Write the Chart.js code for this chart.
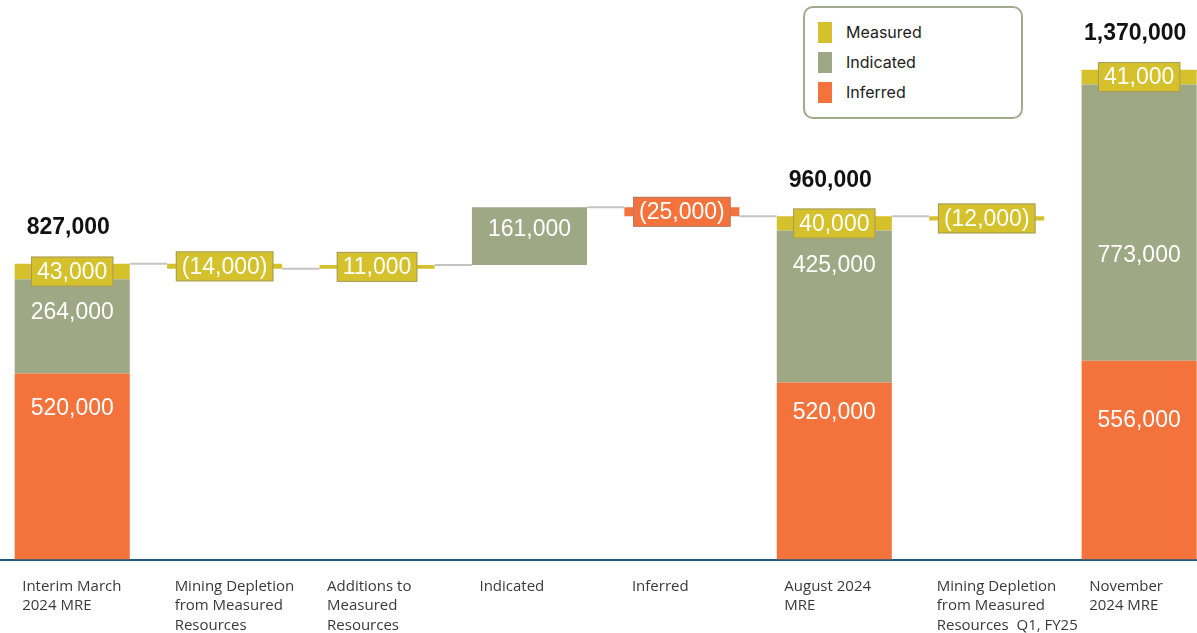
<!DOCTYPE html>
<html>
<head>
<meta charset="utf-8">
<script src="https://cdn.jsdelivr.net/npm/chart.js@4.4.1/dist/chart.umd.min.js"></script>
<style>
  html, body { margin: 0; padding: 0; background: #fff; overflow: hidden; }
  body { width: 1197px; height: 633px; position: relative; }
  #wrap { position: absolute; left: -4px; top: 0; width: 1234px; height: 654px; }
  #legend {
    position: absolute; left: 803px; top: 6px; width: 220px; height: 113px;
    border: 2px solid #a2aa8c; border-radius: 10px; background: #fff;
    font-family: Inter, "Open Sans", sans-serif; font-size: 16px; color: #222;
    padding: 9px 0 0 13px; box-sizing: border-box;
  }
  #legend .item { height: 30px; display: flex; align-items: center; }
  #legend .swatch { width: 14px; height: 21px; margin-right: 14px; }
</style>
</head>
<body>
<div id="wrap"><canvas id="resourceChart" width="1234" height="654"></canvas></div>
<div id="legend"></div>
<script>
const categories = [
    ['Interim March', '2024 MRE'],
    ['Mining Depletion', 'from Measured', 'Resources'],
    ['Additions to', 'Measured', 'Resources'],
    ['Indicated'],
    ['Inferred'],
    ['August 2024', 'MRE'],
    ['Mining Depletion', 'from Measured', 'Resources  Q1, FY25'],
    ['November', '2024 MRE']
];
// full resource statements stack from zero, the other columns are changes
const isTotal = [true, false, false, false, false, true, false, true];
const inferred  = [520000, 0, 0, 0, -25000, 495000, 0, 556000];
const indicated = [264000, 0, 0, 161000, 0, 425000, 0, 773000];
const measured  = [43000, -14000, 11000, 0, 0, 40000, -12000, 41000];
const totals    = [827000, null, null, null, null, 960000, null, 1370000];
// the August inferred segment is printed as 520,000 on the original
const inferredText = [null, null, null, null, null, '520,000', null, null];

const colors = { measured: '#d5c12b', indicated: '#9ea884', inferred: '#f4733d' };
const barPct = 0.755;

// build floating [start, end] ranges for the waterfall
let infRange = [], indRange = [], meaRange = [];
let levelBefore = [], levelAfter = [];
let level = 0;
for (let i = 0; i < categories.length; i++) {
    if (isTotal[i]) {
        let a = inferred[i], b = a + indicated[i], c = b + measured[i];
        infRange.push([0, a]);
        indRange.push([a, b]);
        meaRange.push([b, c]);
        levelBefore.push(c);
        level = c;
    } else {
        levelBefore.push(level);
        let vals = [inferred[i], indicated[i], measured[i]];
        let outs = [infRange, indRange, meaRange];
        for (let k = 0; k < 3; k++) {
            if (!vals[k]) { outs[k].push(null); continue; }
            outs[k].push([level, level + vals[k]]);
            level += vals[k];
        }
    }
    levelAfter.push(level);
}

function fmt(v) {
    let s = Math.abs(v).toLocaleString('en-US');
    return v < 0 ? '(' + s + ')' : s;
}

const segmentLabels = {
    id: 'segmentLabels',
    afterDatasetsDraw(chart) {
        const ctx = chart.ctx;
        const xs = chart.scales.x, ys = chart.scales.y;
        const half = (xs.getPixelForValue(1) - xs.getPixelForValue(0)) * barPct / 2;

        // connector lines between columns
        ctx.save();
        ctx.strokeStyle = '#c4c4c4';
        ctx.lineWidth = 2;
        for (let i = 0; i < categories.length - 1; i++) {
            if (levelAfter[i] !== levelBefore[i + 1]) continue;
            let py = ys.getPixelForValue(levelAfter[i]);
            ctx.beginPath();
            ctx.moveTo(xs.getPixelForValue(i) + half, py);
            ctx.lineTo(xs.getPixelForValue(i + 1) - half, py);
            ctx.stroke();
        }
        ctx.restore();

        ctx.save();
        ctx.textAlign = 'center';
        ctx.textBaseline = 'middle';
        chart.data.datasets.forEach((ds, d) => {
            const meta = chart.getDatasetMeta(d);
            ds.source.forEach((v, i) => {
                if (!v) return;
                const el = meta.data[i];
                const top = Math.min(el.y, el.base), bot = Math.max(el.y, el.base);
                const h = bot - top;
                const text = (ds.textOverride && ds.textOverride[i]) || fmt(v);
                ctx.font = '23px "Liberation Sans", Arial, sans-serif';
                if (ds.boxed || h < 40) {
                    const w = ctx.measureText(text).width + 12;
                    const cy = (top + bot) / 2;
                    ctx.fillStyle = ds.backgroundColor;
                    ctx.fillRect(el.x - w / 2, cy - 15, w, 30);
                    ctx.strokeStyle = 'rgba(130,130,130,0.6)';
                    ctx.lineWidth = 1;
                    ctx.strokeRect(el.x - w / 2 + 0.5, cy - 14.5, w - 1, 29);
                    ctx.fillStyle = '#fff';
                    ctx.fillText(text, el.x, cy + 1);
                } else {
                    ctx.fillStyle = '#fff';
                    ctx.fillText(text, el.x, top + ds.labelAt[i] * h);
                }
            });
        });

        // column totals
        ctx.fillStyle = '#111';
        ctx.font = 'bold 23px "Liberation Sans", Arial, sans-serif';
        totals.forEach((t, i) => {
            if (t === null) return;
            ctx.fillText(t.toLocaleString('en-US'), xs.getPixelForValue(i) - 4, ys.getPixelForValue(t) - 36);
        });
        ctx.restore();
    }
};

const ctx = document.getElementById('resourceChart').getContext('2d');
const chart = new Chart(ctx, {
    type: 'bar',
    data: {
        labels: categories,
        datasets: [{
            label: 'Inferred',
            data: infRange,
            source: inferred,
            textOverride: inferredText,
            labelAt: [0.19, 0, 0, 0, 0, 0.17, 0, 0.30],
            backgroundColor: colors.inferred
        }, {
            label: 'Indicated',
            data: indRange,
            source: indicated,
            labelAt: [0.35, 0, 0, 0.38, 0, 0.23, 0, 0.62],
            backgroundColor: colors.indicated
        }, {
            label: 'Measured',
            data: meaRange,
            source: measured,
            boxed: true,
            backgroundColor: colors.measured
        }]
    },
    options: {
        responsive: false,
        animation: false,
        datasets: {
            bar: { grouped: false, barPercentage: barPct, categoryPercentage: 1, borderWidth: 0 }
        },
        layout: { padding: { top: 59, bottom: 2, left: 0, right: 0 } },
        plugins: {
            legend: { display: false },
            tooltip: { enabled: false }
        },
        scales: {
            x: {
                grid: { display: false, drawTicks: false },
                border: { display: true, color: '#1f5a7a', width: 2 },
                ticks: {
                    autoSkip: false,
                    maxRotation: 0,
                    align: 'start',
                    labelOffset: -50,
                    padding: 17,
                    color: '#3a3a3a',
                    font: { family: '"Open Sans", sans-serif', size: 15, lineHeight: 1.3 }
                }
            },
            y: { display: false, min: 0, max: 1400000 }
        }
    },
    plugins: [segmentLabels]
});

// legend box, measured first as on the original
const legendDiv = document.getElementById('legend');
chart.data.datasets.slice().reverse().forEach(ds => {
    let item = document.createElement('div');
    item.className = 'item';
    item.innerHTML = '<span class="swatch" style="background:' + ds.backgroundColor + '"></span>' + ds.label;
    legendDiv.appendChild(item);
});
</script>
</body>
</html>
